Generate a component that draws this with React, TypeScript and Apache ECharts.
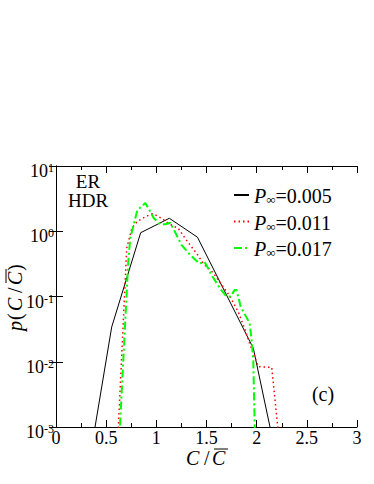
import React, { useEffect, useRef } from 'react';
import * as echarts from 'echarts';

const FONT = "'Liberation Serif', 'Times New Roman', Times, serif";

const seriesNames = ['P∞=0.005', 'P∞=0.011', 'P∞=0.017'];
const legendValues = ['=0.005', '=0.011', '=0.017'];
const seriesColors = ['#000000', '#ff0000', '#00ff00'];

const blackX = [0.27, 0.555, 0.844, 1.13, 1.41, 1.967, 2.255];
const blackY = [0.00008, 0.034, 0.95, 1.58, 0.81, 0.016, 0.00013];

const redX = [0.615, 0.705, 0.757, 0.807, 0.89, 0.96, 1.0, 1.06, 1.12, 1.22, 1.30, 1.40, 1.468, 1.568, 1.667, 1.734, 1.817, 1.884, 1.93, 1.98, 2.015, 2.15, 2.225];
const redY = [0.0006, 0.55, 1.12, 1.4, 1.67, 1.85, 1.75, 1.55, 1.32, 1.1, 0.73, 0.46, 0.32, 0.23, 0.14, 0.10, 0.058, 0.031, 0.019, 0.012, 0.0084, 0.0082, 0.0006];

const greenX = [0.63, 0.72, 0.74, 0.81, 0.89, 0.94, 0.975, 1.04, 1.09, 1.14, 1.19, 1.25, 1.34, 1.43, 1.48, 1.57, 1.64, 1.70, 1.74, 1.78, 1.80, 1.84, 1.93, 1.95, 1.966, 1.985];
const greenY = [0.0006, 0.34, 0.78, 2.1, 2.7, 2.0, 1.58, 1.28, 1.28, 1.35, 0.95, 0.62, 0.43, 0.32, 0.34, 0.19, 0.13, 0.10, 0.10, 0.126, 0.126, 0.07, 0.039, 0.0215, 0.0107, 0.0005];

const xMin = 0;
const xMax = 3;
const xStep = 0.5;
const yMin = 0.001;
const yMax = 10;

const zip = (xs: number[], ys: number[]) => xs.map((x, i) => [x, ys[i]]);

const txt = (text: string, x: number, y: number, size: number, italic = false, align = 'left') => ({
  type: 'text',
  x,
  y,
  silent: true,
  style: {
    text,
    fill: '#000',
    fontSize: size,
    fontFamily: FONT,
    fontStyle: italic ? 'italic' : 'normal',
    lineHeight: 16,
    align,
    verticalAlign: 'middle',
    textAlign: align,
    textVerticalAlign: 'middle',
  },
});

export default function App() {
  const ref = useRef<HTMLDivElement>(null);
  useEffect(() => {
    if (!ref.current) return;
    const chart = echarts.init(ref.current, undefined, { renderer: 'svg' });
    const axisLine = { show: true, lineStyle: { color: '#000', width: 1 } };
    const option: any = {
      animation: false,
      backgroundColor: '#fff',
      grid: { left: 56, top: 166, width: 301, height: 261, containLabel: false },
      xAxis: [
        {
          type: 'value', min: xMin, max: xMax, interval: xStep, position: 'bottom',
          axisLine,
          axisTick: { show: true, inside: true, length: 7, lineStyle: { color: '#000' } },
          minorTick: { show: true, splitNumber: 2, length: 4, lineStyle: { color: '#000' } },
          splitLine: { show: false },
          axisLabel: { color: '#000', fontSize: 18, fontFamily: FONT, margin: 2 },
        },
        {
          type: 'value', min: xMin, max: xMax, interval: xStep, position: 'top',
          axisLine,
          axisTick: { show: true, inside: true, length: 7, lineStyle: { color: '#000' } },
          minorTick: { show: true, splitNumber: 2, length: 4, lineStyle: { color: '#000' } },
          splitLine: { show: false },
          axisLabel: { show: false },
        },
      ],
      yAxis: [
        {
          type: 'log', logBase: 10, min: yMin, max: yMax, position: 'left',
          axisLine,
          axisTick: { show: true, inside: true, length: 7, lineStyle: { color: '#000' } },
          splitLine: { show: false },
          axisLabel: {
            margin: 2,
            padding: [10, 0, 0, 0],
            formatter: (v: number) => `{b|10}{s|${Math.round(Math.log10(v))}}`,
            rich: {
              b: { fontSize: 18, fontFamily: FONT, color: '#000', lineHeight: 18, verticalAlign: 'bottom' },
              s: { fontSize: 12, fontFamily: FONT, color: '#000', lineHeight: 12, verticalAlign: 'top' },
            },
          },
        },
        {
          type: 'log', logBase: 10, min: yMin, max: yMax, position: 'right',
          axisLine,
          axisTick: { show: true, inside: true, length: 7, lineStyle: { color: '#000' } },
          splitLine: { show: false },
          axisLabel: { show: false },
        },
      ],
      legend: {
        orient: 'vertical',
        left: 228,
        top: 181,
        itemWidth: 15,
        itemHeight: 2,
        itemGap: 6.5,
        data: seriesNames,
        selectedMode: false,
        itemStyle: { opacity: 0, borderWidth: 0 },
        formatter: (name: string) => `{p|P}{s|∞}{n|${legendValues[seriesNames.indexOf(name)]}}`,
        textStyle: {
          rich: {
            p: { fontSize: 20, fontFamily: FONT, fontStyle: 'italic', color: '#000', lineHeight: 22, verticalAlign: 'bottom' },
            s: { fontSize: 13, fontFamily: FONT, color: '#000', lineHeight: 16, verticalAlign: 'bottom' },
            n: { fontSize: 20, fontFamily: FONT, color: '#000', lineHeight: 22, verticalAlign: 'bottom' },
          },
        },
      },
      graphic: [
        txt('ER', 88, 181, 19, false, 'center'),
        txt('HDR', 88, 200.5, 19, false, 'center'),
        txt('(c)', 323, 394, 20, false, 'center'),
        // x axis name
        txt('C', 186, 458, 20, true),
        txt('/', 204, 458, 20, false),
        txt('C', 212, 458, 20, true),
        { type: 'line', silent: true, shape: { x1: 214, y1: 449, x2: 228, y2: 449 }, style: { stroke: '#000', lineWidth: 1 } },
        // y axis name (rotated)
        {
          type: 'group', x: 15, y: 295, rotation: Math.PI / 2, silent: true,
          children: [
            txt('p', -36, 0, 20, true),
            txt('(', -25, 0, 20, false),
            txt('C', -16, 0, 20, true),
            txt('/', 2, 0, 20, false),
            txt('C', 10, 0, 20, true),
            txt(')', 24, 0, 20, false),
            { type: 'line', shape: { x1: 12, y1: -9, x2: 26, y2: -9 }, style: { stroke: '#000', lineWidth: 1 } },
          ],
        },
      ],
      series: [
        {
          name: seriesNames[0], type: 'line', symbol: 'none', xAxisIndex: 0, yAxisIndex: 0,
          data: zip(blackX, blackY), clip: true,
          lineStyle: { color: seriesColors[0], width: 1, type: 'solid' },
          itemStyle: { color: seriesColors[0] },
        },
        {
          name: seriesNames[1], type: 'line', symbol: 'none', xAxisIndex: 0, yAxisIndex: 0,
          data: zip(redX, redY), clip: true,
          lineStyle: { color: seriesColors[1], width: 1.5, type: [1.5, 3] },
          itemStyle: { color: seriesColors[1] },
        },
        {
          name: seriesNames[2], type: 'line', symbol: 'none', xAxisIndex: 0, yAxisIndex: 0,
          data: zip(greenX, greenY), clip: true,
          lineStyle: { color: seriesColors[2], width: 2, type: [8, 3, 2, 3] },
          itemStyle: { color: seriesColors[2] },
        },
      ],
    };
    chart.setOption(option);
    return () => chart.dispose();
  }, []);
  return <div ref={ref} style={{ position: 'fixed', left: 0, top: 0, width: 374, height: 484 }} />;
}
